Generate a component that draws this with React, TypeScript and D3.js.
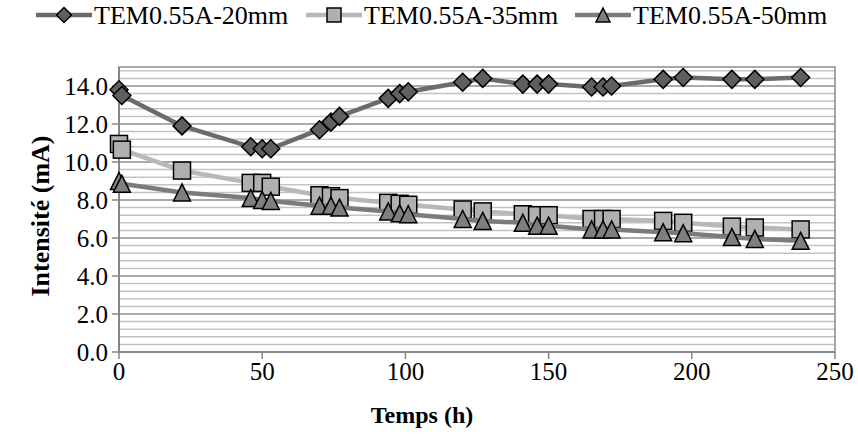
import React from "react";
import * as d3 from "d3";

const times = [0, 1, 22, 46, 50, 53, 70, 74, 77, 94, 98, 101, 120, 127, 141, 146, 150, 165, 169, 172, 190, 197, 214, 222, 238];
const s20 = [13.8, 13.5, 11.9, 10.8, 10.7, 10.7, 11.7, 12.1, 12.4, 13.35, 13.6, 13.7, 14.2, 14.4, 14.1, 14.1, 14.1, 13.95, 13.95, 14.0, 14.35, 14.45, 14.35, 14.35, 14.45];
const s35 = [10.95, 10.65, 9.55, 8.9, 8.9, 8.7, 8.25, 8.2, 8.1, 7.85, 7.8, 7.75, 7.5, 7.4, 7.25, 7.2, 7.2, 7.0, 7.0, 7.0, 6.9, 6.8, 6.6, 6.55, 6.45];
const s50 = [9.0, 8.85, 8.4, 8.1, 8.0, 7.95, 7.7, 7.7, 7.6, 7.4, 7.3, 7.25, 7.0, 6.9, 6.8, 6.65, 6.65, 6.45, 6.45, 6.45, 6.3, 6.25, 6.05, 5.95, 5.85];
const seriesNames = ["TEM0.55A-20mm", "TEM0.55A-35mm", "TEM0.55A-50mm"];
const xTicks = [0, 50, 100, 150, 200, 250];
const yTicks = [0, 2, 4, 6, 8, 10, 12, 14];
const xTitle = "Temps (h)";
const yTitle = "Intensité (mA)";

const W = 858, H = 439;
const L = 119, R = 835, T = 67, B = 352;
const FF = '"Liberation Serif", monospace';

const styles = [
  { line: "#6b6b6b", fill: "#5f5f5f", shape: "diamond" },
  { line: "#b8b8b8", fill: "#b0b0b0", shape: "square" },
  { line: "#7b7b7b", fill: "#7f7f7f", shape: "triangle" },
];

let ctx: CanvasRenderingContext2D | null = null;
function measure(s: string, size: number, bold = false): number {
  if (!ctx) ctx = document.createElement("canvas").getContext("2d");
  if (!ctx) return s.length * size * 0.5;
  ctx.font = `${bold ? "bold " : ""}${size}px "Liberation Serif"`;
  return ctx.measureText(s).width;
}

function Marker({ shape, x, y, s, fill }: { shape: string; x: number; y: number; s: number; fill: string }) {
  const h = s / 2;
  if (shape === "diamond") {
    return <path d={`M${x},${y - h - 0.5}L${x + h + 0.5},${y}L${x},${y + h + 0.5}L${x - h - 0.5},${y}Z`} fill={fill} stroke="#000" strokeWidth={1.5} />;
  }
  if (shape === "square") {
    return <rect x={x - h} y={y - h} width={s} height={s} fill={fill} stroke="#000" strokeWidth={1.5} />;
  }
  return <path d={`M${x},${y - h}L${x + h},${y + h}L${x - h},${y + h}Z`} fill={fill} stroke="#000" strokeWidth={1.5} />;
}

function Txt({ x, y, s, size, bold, anchor, rotate }: { x: number; y: number; s: string; size: number; bold?: boolean; anchor?: string; rotate?: number }) {
  const w = measure(s, size, !!bold);
  const dx = anchor === "end" ? -w : anchor === "middle" ? -w / 2 : 0;
  return (
    <g transform={`translate(${x},${y})${rotate ? ` rotate(${rotate})` : ""}`}>
      <text x={dx} y={0} fontSize={size} fontWeight={bold ? "bold" : "normal"} fontFamily={FF} style={{ fontFamily: FF }}>
        {s}
      </text>
    </g>
  );
}

export default function App() {
  const x = d3.scaleLinear().domain([0, 250]).range([L, R]);
  const y = d3.scaleLinear().domain([0, 15]).range([B, T]);
  const data = [s20, s35, s50];
  const minor = d3.range(0, 15.0001, 0.4).filter((v) => Math.abs(v / 2 - Math.round(v / 2)) > 1e-6);
  const line = d3.line<[number, number]>().x((d) => x(d[0])).y((d) => y(d[1]));

  const legendX = [36, 306, 575];
  const TICK = 25;
  return (
    <svg width={W} height={H} style={{ position: "absolute", left: 0, top: 0 }}>
      <rect width={W} height={H} fill="#fff" />
      {minor.map((v, i) => (
        <line key={"m" + i} x1={L} x2={R} y1={y(v)} y2={y(v)} stroke="#c3c3c3" strokeWidth={1.5} />
      ))}
      {yTicks.map((v) => (
        <line key={"g" + v} x1={L} x2={R} y1={y(v)} y2={y(v)} stroke="#8e8e8e" strokeWidth={1.5} />
      ))}
      <rect x={L} y={T} width={R - L} height={B - T} fill="none" stroke="#8a8a8a" strokeWidth={1.5} />
      <line x1={L} x2={L} y1={T} y2={B} stroke="#868686" strokeWidth={2} />
      <line x1={L} x2={R} y1={B} y2={B} stroke="#868686" strokeWidth={2} />
      {yTicks.map((v) => (
        <line key={"yt" + v} x1={L - 7} x2={L} y1={y(v)} y2={y(v)} stroke="#868686" strokeWidth={1.5} />
      ))}
      {xTicks.map((v) => (
        <line key={"xt" + v} x1={x(v)} x2={x(v)} y1={B} y2={B + 7} stroke="#868686" strokeWidth={1.5} />
      ))}
      {data.map((vals, si) => {
        const pts = times.map((t, i) => [t, vals[i]] as [number, number]);
        return (
          <g key={"s" + si}>
            <path d={line(pts) || ""} fill="none" stroke={styles[si].line} strokeWidth={4.5} strokeLinejoin="round" />
            {pts.map((p, i) => (
              <Marker key={i} shape={styles[si].shape} x={x(p[0])} y={y(p[1])} s={17} fill={styles[si].fill} />
            ))}
          </g>
        );
      })}
      {yTicks.map((v) => (
        <Txt key={"yl" + v} x={L - 11} y={y(v) + 8.5} s={v.toFixed(1)} size={TICK} anchor="end" />
      ))}
      {xTicks.map((v) => (
        <Txt key={"xl" + v} x={x(v)} y={B + 28} s={String(v)} size={TICK} anchor="middle" />
      ))}
      <Txt x={422} y={423} s={xTitle} size={24} bold anchor="middle" />
      <Txt x={49} y={216} s={yTitle} size={26} bold anchor="middle" rotate={-90} />
      {seriesNames.map((n, i) => (
        <g key={"l" + i} transform={`translate(${legendX[i]},15)`}>
          <line x1={0} x2={56} y1={0} y2={0} stroke={styles[i].line} strokeWidth={4.5} />
          <Marker shape={styles[i].shape} x={28} y={0} s={14} fill={styles[i].fill} />
          <Txt x={58} y={9} s={n} size={26} />
        </g>
      ))}
    </svg>
  );
}
